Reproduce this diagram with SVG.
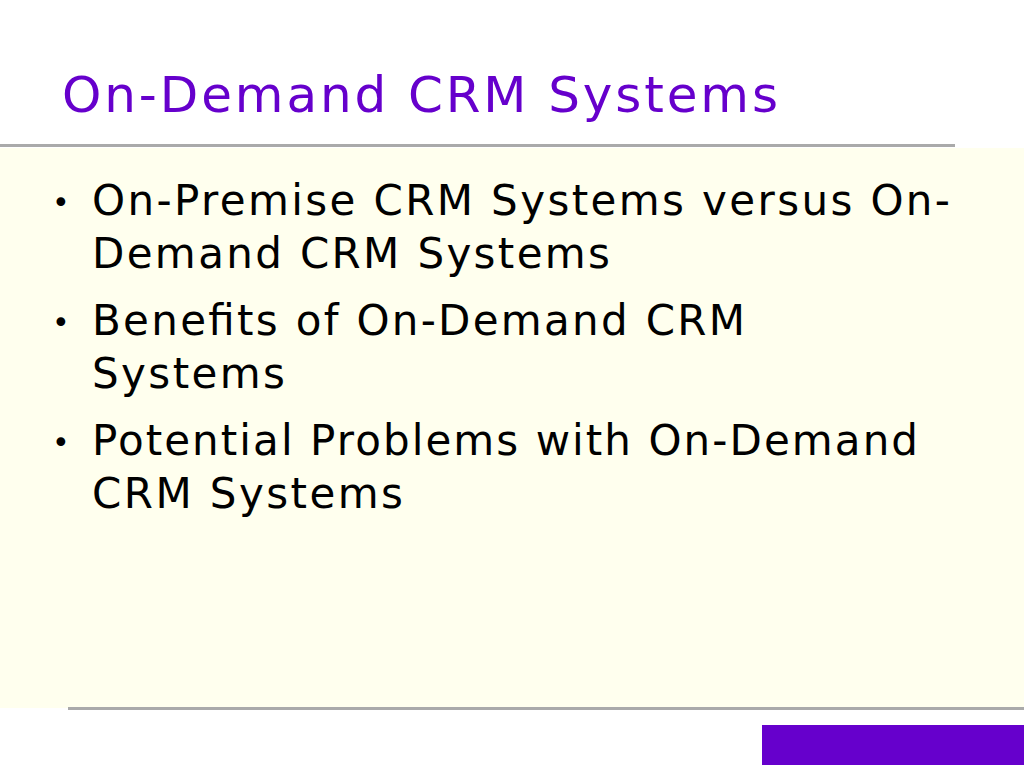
<svg xmlns="http://www.w3.org/2000/svg" width="1024" height="768" viewBox="0 0 1024 768">
<style>
.t{font-family:"DejaVu Sans",Verdana,sans-serif;}
.b{font-size:42px;fill:#000;}
</style>
<rect width="1024" height="768" fill="#fff"/>
<g id="background">
<rect x="0" y="148" width="1024" height="560" fill="#FFFFEE"/>
<line x1="0" y1="145.500" x2="955" y2="145.500" stroke="#AAAAAA" stroke-width="3"/>
<line x1="68" y1="708.500" x2="1024" y2="708.500" stroke="#AAAAAA" stroke-width="3"/>
<rect x="762" y="725" width="262" height="40" fill="#6600CC"/>
</g>
<g id="title"><text class="t" x="62" y="112" font-size="50" fill="#6600CC" textLength="716" lengthAdjust="spacing">On-Demand CRM Systems</text></g>
<g id="bullets" class="t b">
<text x="52" y="213" font-size="30">•</text>
<text x="92" y="215" textLength="858" lengthAdjust="spacing">On-Premise CRM Systems versus On-</text>
<text x="92" y="268" textLength="518" lengthAdjust="spacing">Demand CRM Systems</text>
<text x="52" y="333" font-size="30">•</text>
<text x="92" y="335" textLength="653" lengthAdjust="spacing">Benefits of On-Demand CRM</text>
<text x="92" y="388" textLength="193" lengthAdjust="spacing">Systems</text>
<text x="52" y="453" font-size="30">•</text>
<text x="92" y="455" textLength="826" lengthAdjust="spacing">Potential Problems with On-Demand</text>
<text x="92" y="508" textLength="311" lengthAdjust="spacing">CRM Systems</text>
</g>
</svg>
